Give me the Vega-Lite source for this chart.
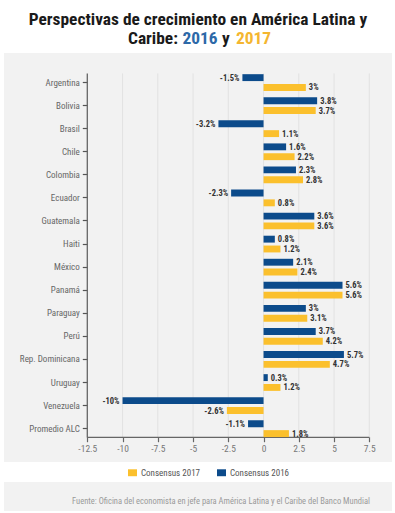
{
  "$schema": "https://vega.github.io/schema/vega-lite/v6.json",
  "background": "white",
  "padding": {"left": 4, "right": 3, "top": 0, "bottom": 2},
  "spacing": 0,
  "config": {
    "view": {"stroke": null},
    "font": "Roboto Condensed, Liberation Sans Narrow, DejaVu Sans Condensed, Arial Narrow, Roboto, sans-serif"
  },
  "resolve": {"scale": {"color": "independent", "x": "independent", "y": "independent"}, "legend": {"color": "independent"}},
  "vconcat": [
    {
      "width": 388,
      "height": 53,
      "data": {"values": [{}]},
      "layer": [
        {"mark": {"type": "text", "text": "Perspectivas de crecimiento en América Latina y", "fontSize": 17.4, "fontWeight": "bold", "color": "#1a1a1a", "baseline": "middle", "align": "center", "dy": -6.5}, "encoding": {}},
        {"mark": {"type": "text", "text": "Caribe:", "fontSize": 17.4, "fontWeight": "bold", "color": "#1a1a1a", "baseline": "middle", "align": "left", "dx": -70, "dy": 12.5}, "encoding": {}},
        {"mark": {"type": "text", "text": "2016", "fontSize": 17.4, "fontWeight": "bold", "color": "#2d69a8", "baseline": "middle", "align": "left", "dx": -15.5, "dy": 12.5}, "encoding": {}},
        {"mark": {"type": "text", "text": "y", "fontSize": 17.4, "fontWeight": "bold", "color": "#1a1a1a", "baseline": "middle", "align": "left", "dx": 24, "dy": 12.5}, "encoding": {}},
        {"mark": {"type": "text", "text": "2017", "fontSize": 17.4, "fontWeight": "bold", "color": "#f4b630", "baseline": "middle", "align": "left", "dx": 38, "dy": 12.5}, "encoding": {}}
      ]
    },
    {
      "width": 388,
      "height": 409,
      "view": {"fill": "#f2f2f2", "stroke": null},
      "resolve": {"scale": {"y": "independent"}},
      "layer": [
        {
          "layer": [
            {
              "data": {"values": [{"valor": -10}, {"valor": -7.5}, {"valor": -5}, {"valor": -2.5}, {"valor": 0}, {"valor": 2.5}, {"valor": 5}, {"valor": 7.5}]},
              "mark": {"type": "rule", "color": "#e2e2e2", "strokeWidth": 1},
              "encoding": {
                "x": {"field": "valor", "type": "quantitative", "title": null},
                "y": {"datum": 0, "type": "quantitative", "scale": {"domain": [-0.897, 17.081], "reverse": true, "zero": false, "nice": false}, "axis": null},
                "y2": {"datum": 16}
              }
            },
            {
              "data": {"values": [{}]},
              "mark": {"type": "rule", "color": "#666666", "strokeWidth": 1.3},
              "encoding": {
                "x": {"datum": -12.5, "type": "quantitative"},
                "y": {"datum": 0, "type": "quantitative"},
                "y2": {"datum": 16}
              }
            },
            {
              "data": {"values": [{}]},
              "mark": {"type": "rule", "color": "#666666", "strokeWidth": 1.3},
              "encoding": {
                "x": {"datum": -12.5, "type": "quantitative"},
                "x2": {"datum": 7.5},
                "y": {"datum": 16, "type": "quantitative"}
              }
            }
          ]
        },
        {
          "data": {"values": [
            {"pais": "Argentina", "serie": "Consensus 2016", "valor": -1.5},
            {"pais": "Argentina", "serie": "Consensus 2017", "valor": 3},
            {"pais": "Bolivia", "serie": "Consensus 2016", "valor": 3.8},
            {"pais": "Bolivia", "serie": "Consensus 2017", "valor": 3.7},
            {"pais": "Brasil", "serie": "Consensus 2016", "valor": -3.2},
            {"pais": "Brasil", "serie": "Consensus 2017", "valor": 1.1},
            {"pais": "Chile", "serie": "Consensus 2016", "valor": 1.6},
            {"pais": "Chile", "serie": "Consensus 2017", "valor": 2.2},
            {"pais": "Colombia", "serie": "Consensus 2016", "valor": 2.3},
            {"pais": "Colombia", "serie": "Consensus 2017", "valor": 2.8},
            {"pais": "Ecuador", "serie": "Consensus 2016", "valor": -2.3},
            {"pais": "Ecuador", "serie": "Consensus 2017", "valor": 0.8},
            {"pais": "Guatemala", "serie": "Consensus 2016", "valor": 3.6},
            {"pais": "Guatemala", "serie": "Consensus 2017", "valor": 3.6},
            {"pais": "Haiti", "serie": "Consensus 2016", "valor": 0.8},
            {"pais": "Haiti", "serie": "Consensus 2017", "valor": 1.2},
            {"pais": "México", "serie": "Consensus 2016", "valor": 2.1},
            {"pais": "México", "serie": "Consensus 2017", "valor": 2.4},
            {"pais": "Panamá", "serie": "Consensus 2016", "valor": 5.6},
            {"pais": "Panamá", "serie": "Consensus 2017", "valor": 5.6},
            {"pais": "Paraguay", "serie": "Consensus 2016", "valor": 3},
            {"pais": "Paraguay", "serie": "Consensus 2017", "valor": 3.1},
            {"pais": "Perú", "serie": "Consensus 2016", "valor": 3.7},
            {"pais": "Perú", "serie": "Consensus 2017", "valor": 4.2},
            {"pais": "Rep. Dominicana", "serie": "Consensus 2016", "valor": 5.7},
            {"pais": "Rep. Dominicana", "serie": "Consensus 2017", "valor": 4.7},
            {"pais": "Uruguay", "serie": "Consensus 2016", "valor": 0.3},
            {"pais": "Uruguay", "serie": "Consensus 2017", "valor": 1.2},
            {"pais": "Venezuela", "serie": "Consensus 2016", "valor": -10},
            {"pais": "Venezuela", "serie": "Consensus 2017", "valor": -2.6},
            {"pais": "Promedio ALC", "serie": "Consensus 2016", "valor": -1.1},
            {"pais": "Promedio ALC", "serie": "Consensus 2017", "valor": 1.8}
          ]},
          "encoding": {
            "y": {"field": "pais", "type": "nominal", "sort": null, "title": null,
              "scale": {"paddingInner": 0.275, "paddingOuter": 1.1266, "align": 0.459},
              "axis": {"orient": "left", "domain": false, "ticks": true, "tickSize": 5, "tickColor": "#555555", "tickWidth": 1.2, "labelFontSize": 9, "labelColor": "#666666", "labelPadding": 3, "offset": -83.3}},
            "yOffset": {"field": "serie", "type": "nominal", "scale": {"domain": ["Consensus 2016", "Consensus 2017"], "paddingInner": 0.3}},
            "x": {"field": "valor", "type": "quantitative", "title": null,
              "scale": {"domain": [-18.408, 9.11], "nice": false, "zero": false},
              "axis": {"title": null, "values": [-12.5, -10, -7.5, -5, -2.5, 0, 2.5, 5, 7.5], "grid": false, "domain": false, "ticks": true, "tickSize": 5, "tickColor": "#666666", "tickWidth": 1.2, "labelFontSize": 9.5, "labelColor": "#777777", "labelPadding": 2, "offset": -25.3, "labelExpr": "'' + datum.value"}}
          },
          "layer": [
            {
              "mark": {"type": "bar"},
              "encoding": {
                "x2": {"datum": 0},
                "color": {"field": "serie", "type": "nominal",
                  "scale": {"domain": ["Consensus 2017", "Consensus 2016"], "range": ["#fbc02d", "#0c4b8b"]},
                  "legend": {"title": null, "orient": "none", "legendX": 120, "legendY": 411, "direction": "horizontal", "symbolType": "M-1,-0.77H1V0.77H-1Z", "symbolSize": 81, "symbolStrokeWidth": 0, "labelFontSize": 9, "labelColor": "#555555", "labelOffset": 4, "columnPadding": 16, "padding": 4}}
              }
            },
            {
              "transform": [{"filter": "datum.valor > 0"}, {"calculate": "datum.valor + '%'", "as": "etiqueta"}],
              "mark": {"type": "text", "align": "left", "baseline": "middle", "dx": 3, "fontSize": 8.5, "fontWeight": "bold", "color": "#333333"},
              "encoding": {"text": {"field": "etiqueta"}}
            },
            {
              "transform": [{"filter": "datum.valor < 0"}, {"calculate": "datum.valor + '%'", "as": "etiqueta"}],
              "mark": {"type": "text", "align": "right", "baseline": "middle", "dx": -3, "fontSize": 8.5, "fontWeight": "bold", "color": "#333333"},
              "encoding": {"text": {"field": "etiqueta"}}
            }
          ]
        }
      ]
    },
    {
      "width": 388,
      "height": 29,
      "view": {"fill": "#f2f2f2", "stroke": null},
      "data": {"values": [{"fuente": "Fuente: Oficina del economista en jefe para América Latina y el Caribe del Banco Mundial"}]},
      "mark": {"type": "text", "fontSize": 8.5, "color": "#9a9a9a", "baseline": "middle", "align": "center", "dx": 23, "dy": 4},
      "encoding": {"text": {"field": "fuente"}}
    }
  ]
}
